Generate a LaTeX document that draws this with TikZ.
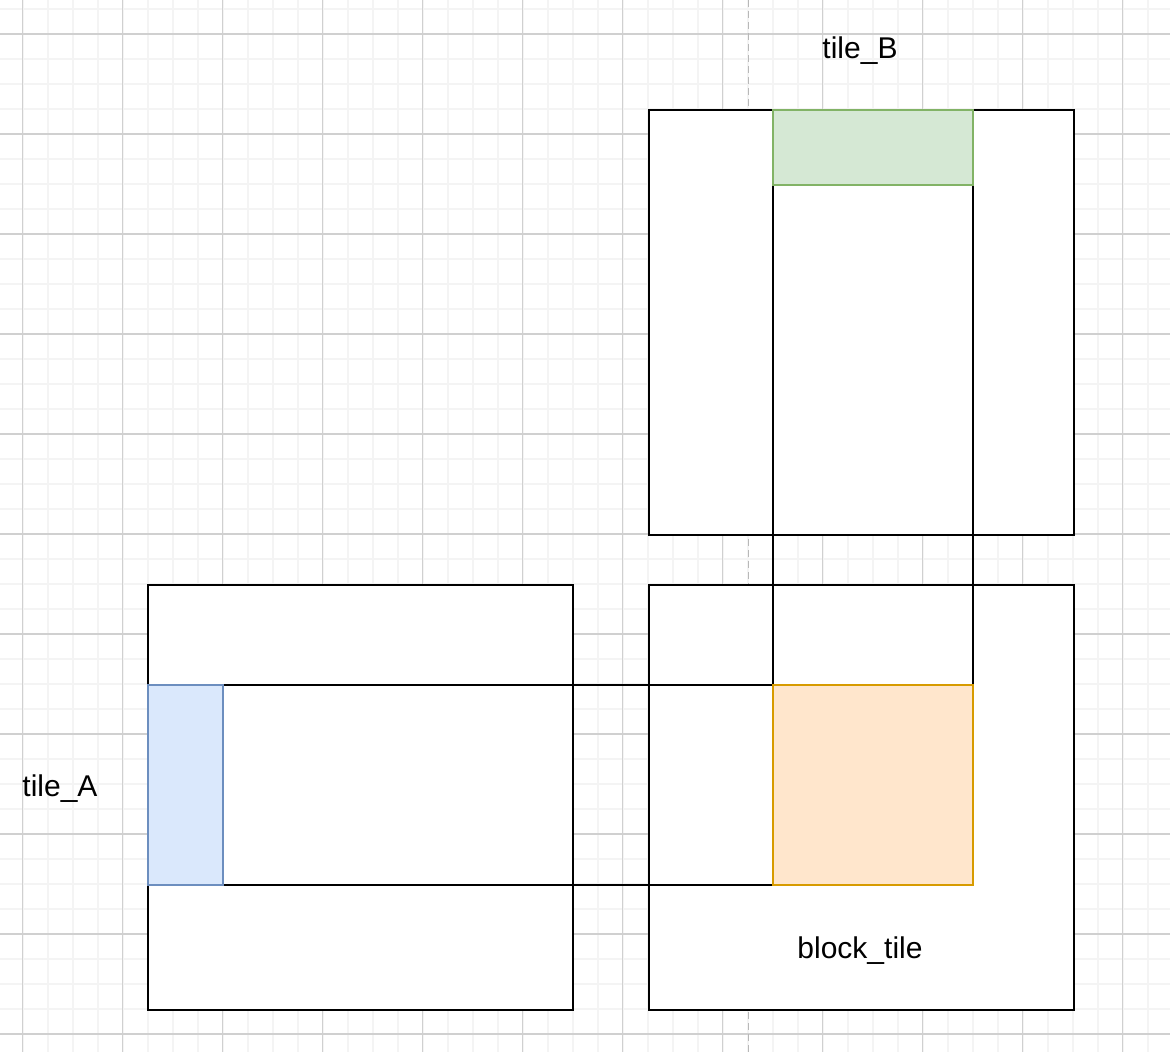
\documentclass[tikz,border=0pt]{standalone}
\usepackage{fontspec}
\setmainfont{Liberation Sans}
\definecolor{gridmajor}{HTML}{D0D0D0}
\definecolor{gridminor}{HTML}{F4F4F4}
\definecolor{dashgray}{HTML}{B8B8B8}
\definecolor{bluefill}{HTML}{DAE8FC}
\definecolor{bluestroke}{HTML}{6C8EBF}
\definecolor{greenfill}{HTML}{D5E8D4}
\definecolor{greenstroke}{HTML}{82B366}
\definecolor{orangefill}{HTML}{FFE6CC}
\definecolor{orangestroke}{HTML}{D79B00}
\begin{document}
\begin{tikzpicture}[x=1pt,y=-1pt,
  blk/.style={draw=black, line width=2.4pt},
  whitebox/.style={blk, fill=white},
  lbl/.style={font=\fontsize{30pt}{36pt}\selectfont, text=black, inner sep=0pt},
  hl/.style={line width=2.4pt}]
\useasboundingbox (0,0) rectangle (1170,1052);
\fill[white] (0,0) rectangle (1170,1052);
% minor grid
\foreach \i in {-2.5,22.5,...,1175} {\draw[gridminor, line width=2pt] (\i,0) -- (\i,1052);}
\foreach \j in {9,34,...,1060} {\draw[gridminor, line width=2pt] (0,\j) -- (1170,\j);}
% major grid
\foreach \i in {22.5,122.5,...,1175} {\draw[gridmajor, line width=1.2pt] (\i,0) -- (\i,1052);}
\foreach \j in {34,134,...,1060} {\draw[gridmajor, line width=1.2pt] (0,\j) -- (1170,\j);}
% dashed axis
\coordinate (dtop) at (748.5,0);
\coordinate (dbot) at (748.5,1052);
\draw[dashgray, line width=1.6pt, dash pattern=on 7pt off 4pt] (dtop) -- (dbot);
% big boxes
\draw[whitebox] (148,585) rectangle (573,1010) coordinate (tileAbox);
\draw[whitebox] (649,585) rectangle (1074,1010) coordinate (blockbox);
\draw[whitebox] (649,110) rectangle (1074,535) coordinate (tileBbox);
% strips
\draw[blk] (148,685) rectangle (973,885) coordinate (hstrip);
\draw[blk] (773,185) rectangle (973,685) coordinate (vstrip);
% highlighted tiles
\draw[hl, draw=bluestroke, fill=bluefill] (148,685) rectangle (223,885) coordinate (bluetile);
\draw[hl, draw=orangestroke, fill=orangefill] (773,685) rectangle (973,885) coordinate (orangetile);
\draw[hl, draw=greenstroke, fill=greenfill] (773,110) rectangle (973,185) coordinate (greentile);
% labels
\node[lbl] (labB) at (860,51) {tile\_B};
\node[lbl] (labA) at (60,789) {tile\_A};
\node[lbl] (labblock) at (860,951) {block\_tile};
\end{tikzpicture}
\end{document}
